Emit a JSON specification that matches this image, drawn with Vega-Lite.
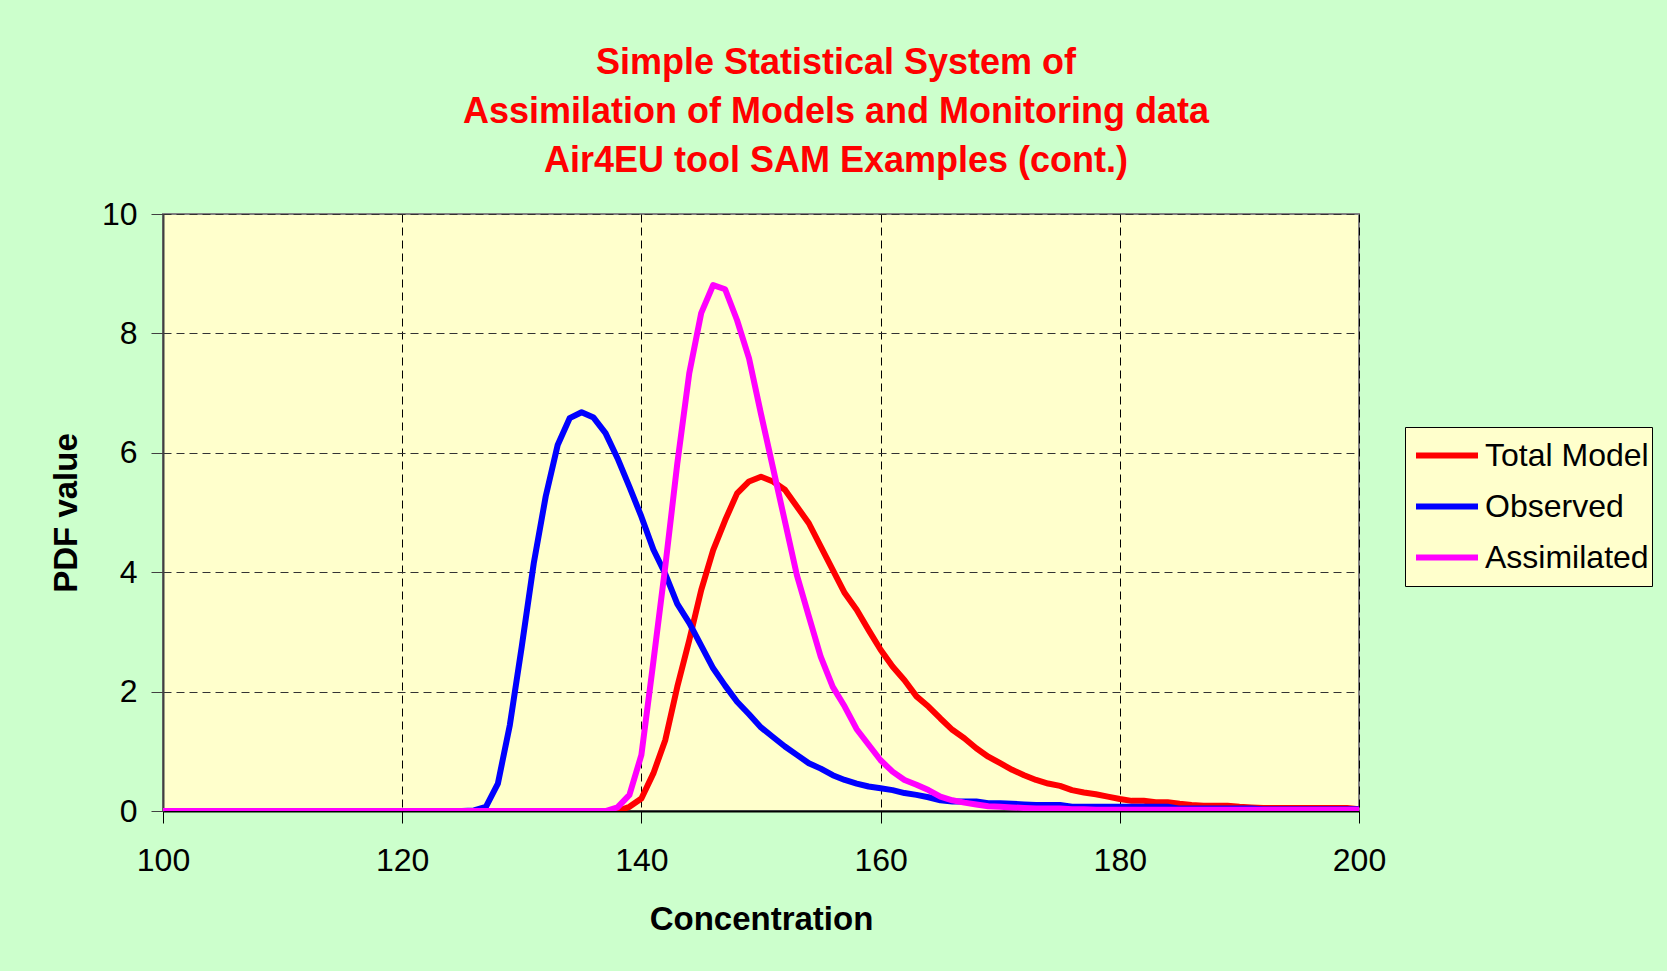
{
  "$schema": "https://vega.github.io/schema/vega-lite/v6.json",
  "width": 1196,
  "height": 597,
  "autosize": {"type": "none"},
  "padding": {"left": 163, "top": 214, "right": 308, "bottom": 160},
  "background": "#CCFFCC",
  "config": {
    "font": "Liberation Sans",
    "view": {"fill": "#FFFFCC", "stroke": "#808080", "strokeWidth": 2}
  },
  "title": {
    "text": ["Simple Statistical System of", "Assimilation of Models and Monitoring data", "Air4EU tool SAM Examples (cont.)"],
    "font": "Liberation Sans",
    "fontSize": 36,
    "fontWeight": "bold",
    "color": "#FF0000",
    "lineHeight": 49,
    "anchor": "middle",
    "dx": 75,
    "offset": 18
  },
  "data": {
    "values": [
      {"c": 100, "Total Model": 0, "Observed": 0, "Assimilated": 0},
      {"c": 101, "Total Model": 0, "Observed": 0, "Assimilated": 0},
      {"c": 102, "Total Model": 0, "Observed": 0, "Assimilated": 0},
      {"c": 103, "Total Model": 0, "Observed": 0, "Assimilated": 0},
      {"c": 104, "Total Model": 0, "Observed": 0, "Assimilated": 0},
      {"c": 105, "Total Model": 0, "Observed": 0, "Assimilated": 0},
      {"c": 106, "Total Model": 0, "Observed": 0, "Assimilated": 0},
      {"c": 107, "Total Model": 0, "Observed": 0, "Assimilated": 0},
      {"c": 108, "Total Model": 0, "Observed": 0, "Assimilated": 0},
      {"c": 109, "Total Model": 0, "Observed": 0, "Assimilated": 0},
      {"c": 110, "Total Model": 0, "Observed": 0, "Assimilated": 0},
      {"c": 111, "Total Model": 0, "Observed": 0, "Assimilated": 0},
      {"c": 112, "Total Model": 0, "Observed": 0, "Assimilated": 0},
      {"c": 113, "Total Model": 0, "Observed": 0, "Assimilated": 0},
      {"c": 114, "Total Model": 0, "Observed": 0, "Assimilated": 0},
      {"c": 115, "Total Model": 0, "Observed": 0, "Assimilated": 0},
      {"c": 116, "Total Model": 0, "Observed": 0, "Assimilated": 0},
      {"c": 117, "Total Model": 0, "Observed": 0, "Assimilated": 0},
      {"c": 118, "Total Model": 0, "Observed": 0, "Assimilated": 0},
      {"c": 119, "Total Model": 0, "Observed": 0, "Assimilated": 0},
      {"c": 120, "Total Model": 0, "Observed": 0, "Assimilated": 0},
      {"c": 121, "Total Model": 0, "Observed": 0, "Assimilated": 0},
      {"c": 122, "Total Model": 0, "Observed": 0, "Assimilated": 0},
      {"c": 123, "Total Model": 0, "Observed": 0, "Assimilated": 0},
      {"c": 124, "Total Model": 0, "Observed": 0, "Assimilated": 0},
      {"c": 125, "Total Model": 0, "Observed": 0, "Assimilated": 0},
      {"c": 126, "Total Model": 0, "Observed": 0.01, "Assimilated": 0},
      {"c": 127, "Total Model": 0, "Observed": 0.07, "Assimilated": 0},
      {"c": 128, "Total Model": 0, "Observed": 0.46, "Assimilated": 0},
      {"c": 129, "Total Model": 0, "Observed": 1.44, "Assimilated": 0},
      {"c": 130, "Total Model": 0, "Observed": 2.76, "Assimilated": 0},
      {"c": 131, "Total Model": 0, "Observed": 4.15, "Assimilated": 0},
      {"c": 132, "Total Model": 0, "Observed": 5.27, "Assimilated": 0},
      {"c": 133, "Total Model": 0, "Observed": 6.13, "Assimilated": 0},
      {"c": 134, "Total Model": 0, "Observed": 6.58, "Assimilated": 0},
      {"c": 135, "Total Model": 0, "Observed": 6.68, "Assimilated": 0},
      {"c": 136, "Total Model": 0, "Observed": 6.59, "Assimilated": 0},
      {"c": 137, "Total Model": 0, "Observed": 6.33, "Assimilated": 0},
      {"c": 138, "Total Model": 0, "Observed": 5.91, "Assimilated": 0.06},
      {"c": 139, "Total Model": 0.07, "Observed": 5.43, "Assimilated": 0.27},
      {"c": 140, "Total Model": 0.21, "Observed": 4.93, "Assimilated": 0.94},
      {"c": 141, "Total Model": 0.63, "Observed": 4.38, "Assimilated": 2.5},
      {"c": 142, "Total Model": 1.19, "Observed": 3.97, "Assimilated": 4.1},
      {"c": 143, "Total Model": 2.08, "Observed": 3.47, "Assimilated": 5.82},
      {"c": 144, "Total Model": 2.86, "Observed": 3.15, "Assimilated": 7.33},
      {"c": 145, "Total Model": 3.7, "Observed": 2.77, "Assimilated": 8.34},
      {"c": 146, "Total Model": 4.37, "Observed": 2.39, "Assimilated": 8.81},
      {"c": 147, "Total Model": 4.87, "Observed": 2.1, "Assimilated": 8.74},
      {"c": 148, "Total Model": 5.32, "Observed": 1.83, "Assimilated": 8.22},
      {"c": 149, "Total Model": 5.52, "Observed": 1.62, "Assimilated": 7.58},
      {"c": 150, "Total Model": 5.6, "Observed": 1.4, "Assimilated": 6.65},
      {"c": 151, "Total Model": 5.52, "Observed": 1.24, "Assimilated": 5.75},
      {"c": 152, "Total Model": 5.38, "Observed": 1.08, "Assimilated": 4.85},
      {"c": 153, "Total Model": 5.1, "Observed": 0.94, "Assimilated": 3.95},
      {"c": 154, "Total Model": 4.82, "Observed": 0.8, "Assimilated": 3.26},
      {"c": 155, "Total Model": 4.43, "Observed": 0.71, "Assimilated": 2.58},
      {"c": 156, "Total Model": 4.04, "Observed": 0.6, "Assimilated": 2.08},
      {"c": 157, "Total Model": 3.65, "Observed": 0.52, "Assimilated": 1.75},
      {"c": 158, "Total Model": 3.37, "Observed": 0.46, "Assimilated": 1.37},
      {"c": 159, "Total Model": 3.03, "Observed": 0.41, "Assimilated": 1.11},
      {"c": 160, "Total Model": 2.7, "Observed": 0.38, "Assimilated": 0.85},
      {"c": 161, "Total Model": 2.42, "Observed": 0.35, "Assimilated": 0.66},
      {"c": 162, "Total Model": 2.19, "Observed": 0.3, "Assimilated": 0.52},
      {"c": 163, "Total Model": 1.92, "Observed": 0.27, "Assimilated": 0.44},
      {"c": 164, "Total Model": 1.75, "Observed": 0.23, "Assimilated": 0.35},
      {"c": 165, "Total Model": 1.55, "Observed": 0.18, "Assimilated": 0.24},
      {"c": 166, "Total Model": 1.36, "Observed": 0.16, "Assimilated": 0.18},
      {"c": 167, "Total Model": 1.22, "Observed": 0.16, "Assimilated": 0.14},
      {"c": 168, "Total Model": 1.05, "Observed": 0.16, "Assimilated": 0.11},
      {"c": 169, "Total Model": 0.91, "Observed": 0.13, "Assimilated": 0.08},
      {"c": 170, "Total Model": 0.8, "Observed": 0.13, "Assimilated": 0.07},
      {"c": 171, "Total Model": 0.69, "Observed": 0.12, "Assimilated": 0.06},
      {"c": 172, "Total Model": 0.6, "Observed": 0.11, "Assimilated": 0.05},
      {"c": 173, "Total Model": 0.52, "Observed": 0.1, "Assimilated": 0.04},
      {"c": 174, "Total Model": 0.46, "Observed": 0.1, "Assimilated": 0.04},
      {"c": 175, "Total Model": 0.42, "Observed": 0.1, "Assimilated": 0.04},
      {"c": 176, "Total Model": 0.35, "Observed": 0.07, "Assimilated": 0.03},
      {"c": 177, "Total Model": 0.31, "Observed": 0.07, "Assimilated": 0.03},
      {"c": 178, "Total Model": 0.28, "Observed": 0.07, "Assimilated": 0.02},
      {"c": 179, "Total Model": 0.24, "Observed": 0.07, "Assimilated": 0.02},
      {"c": 180, "Total Model": 0.2, "Observed": 0.07, "Assimilated": 0.02},
      {"c": 181, "Total Model": 0.17, "Observed": 0.07, "Assimilated": 0.02},
      {"c": 182, "Total Model": 0.17, "Observed": 0.07, "Assimilated": 0.02},
      {"c": 183, "Total Model": 0.145, "Observed": 0.07, "Assimilated": 0.02},
      {"c": 184, "Total Model": 0.145, "Observed": 0.07, "Assimilated": 0.02},
      {"c": 185, "Total Model": 0.12, "Observed": 0.04, "Assimilated": 0.02},
      {"c": 186, "Total Model": 0.1, "Observed": 0.04, "Assimilated": 0.02},
      {"c": 187, "Total Model": 0.09, "Observed": 0.04, "Assimilated": 0.02},
      {"c": 188, "Total Model": 0.09, "Observed": 0.04, "Assimilated": 0.02},
      {"c": 189, "Total Model": 0.09, "Observed": 0.04, "Assimilated": 0.02},
      {"c": 190, "Total Model": 0.07, "Observed": 0.04, "Assimilated": 0.02},
      {"c": 191, "Total Model": 0.06, "Observed": 0.04, "Assimilated": 0.02},
      {"c": 192, "Total Model": 0.05, "Observed": 0.03, "Assimilated": 0.02},
      {"c": 193, "Total Model": 0.05, "Observed": 0.03, "Assimilated": 0.02},
      {"c": 194, "Total Model": 0.05, "Observed": 0.03, "Assimilated": 0.02},
      {"c": 195, "Total Model": 0.05, "Observed": 0.03, "Assimilated": 0.02},
      {"c": 196, "Total Model": 0.05, "Observed": 0.03, "Assimilated": 0.02},
      {"c": 197, "Total Model": 0.05, "Observed": 0.03, "Assimilated": 0.02},
      {"c": 198, "Total Model": 0.05, "Observed": 0.03, "Assimilated": 0.02},
      {"c": 199, "Total Model": 0.05, "Observed": 0.03, "Assimilated": 0.02},
      {"c": 200, "Total Model": 0.03, "Observed": 0.03, "Assimilated": 0.02}
    ]
  },
  "transform": [
    {"fold": ["Total Model", "Observed", "Assimilated"], "as": ["series", "pdf"]}
  ],
  "mark": {"type": "line", "strokeWidth": 6, "strokeJoin": "round", "strokeCap": "round", "clip": true},
  "encoding": {
    "x": {
      "field": "c",
      "type": "quantitative",
      "scale": {"domain": [100, 200], "nice": false, "zero": false},
      "axis": {
        "title": "Concentration",
        "values": [100, 120, 140, 160, 180, 200],
        "labelFontSize": 32,
        "labelColor": "#000000",
        "labelPadding": 22,
        "labelFlush": false,
        "tickSize": 12,
        "tickColor": "#000000",
        "tickWidth": 1,
        "domainColor": "#000000",
        "domainWidth": 2,
        "grid": true,
        "gridColor": "#000000",
        "gridDash": [8, 5],
        "gridWidth": 1,
        "titleFontSize": 33,
        "titleFontWeight": "bold",
        "titleColor": "#000000",
        "titlePadding": 27
      }
    },
    "y": {
      "field": "pdf",
      "type": "quantitative",
      "scale": {"domain": [0, 10], "nice": false},
      "axis": {
        "title": "PDF value",
        "values": [0, 2, 4, 6, 8, 10],
        "labelFontSize": 32,
        "labelColor": "#000000",
        "labelPadding": 14,
        "labelFlush": false,
        "tickSize": 12,
        "tickColor": "#404040",
        "tickWidth": 1,
        "domainColor": "#404040",
        "domainWidth": 2,
        "grid": true,
        "gridColor": "#333333",
        "gridDash": [8, 5],
        "gridWidth": 1,
        "titleFontSize": 33,
        "titleFontWeight": "bold",
        "titleColor": "#000000",
        "titlePadding": 18
      }
    },
    "color": {
      "field": "series",
      "type": "nominal",
      "scale": {"domain": ["Total Model", "Observed", "Assimilated"], "range": ["#FF0000", "#0000FF", "#FF00FF"]},
      "legend": {
        "title": null,
        "orient": "none",
        "legendX": 1242,
        "legendY": 213,
        "fillColor": "#FFFFCC",
        "strokeColor": "#000000",
        "padding": 3,
        "symbolType": "stroke",
        "symbolSize": 3844,
        "symbolStrokeWidth": 6,
        "symbolOffset": 5,
        "labelFontSize": 32,
        "labelLimit": 400,
        "labelColor": "#000000",
        "labelOffset": 4,
        "clipHeight": 51,
        "rowPadding": 0
      }
    }
  }
}
